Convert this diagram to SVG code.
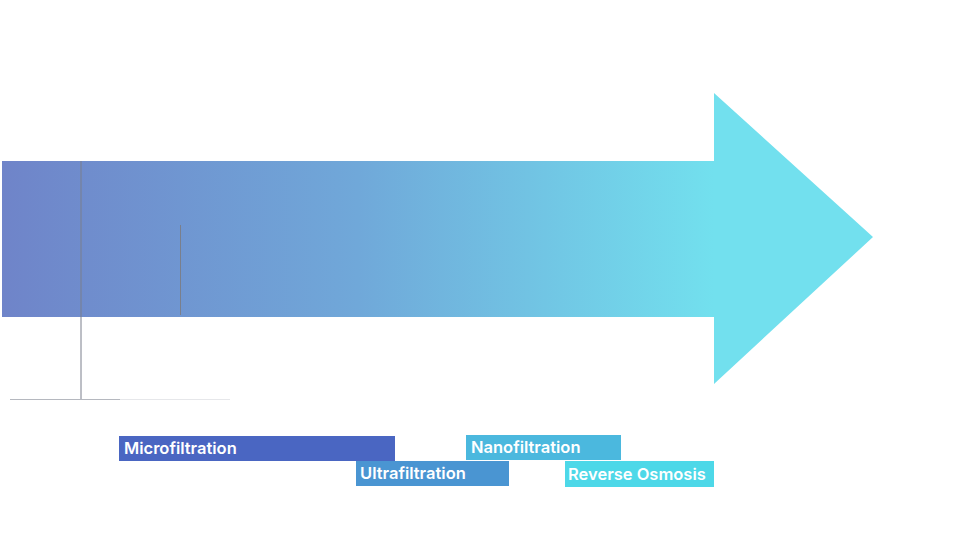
<svg xmlns="http://www.w3.org/2000/svg" width="960" height="540" viewBox="0 0 960 540">
<style>
.lbl{font-family:Inter,"Open Sans","Liberation Sans",sans-serif;font-size:16.5px;font-weight:600;fill:#ffffff}
.ln{stroke:#7a7f8c;stroke-width:1;fill:none}
</style>
<defs>
<linearGradient id="g" gradientUnits="userSpaceOnUse" x1="2" y1="0" x2="714" y2="0">
<stop offset="0" stop-color="#6f84c9"/>
<stop offset="0.5" stop-color="#70a8d9"/>
<stop offset="1" stop-color="#72e0ee"/>
</linearGradient>
</defs>
<rect width="960" height="540" fill="#ffffff"/>
<g id="arrow">
<polygon points="2,161 714,161 714,93 873,237 714,384 714,317 2,317" fill="url(#g)"/>
</g>
<g id="connectors">
<line class="ln" x1="81" y1="161" x2="81" y2="400"/>
<line x1="10" y1="399.5" x2="120" y2="399.5" stroke="#b5b8bf" stroke-width="1"/>
<line x1="120" y1="399.5" x2="230" y2="399.5" stroke="#e6e7ea" stroke-width="1"/>
<line class="ln" x1="180.5" y1="225" x2="180.5" y2="315"/>
</g>
<g id="microfiltration">
<rect x="119" y="436" width="276" height="25" fill="#4a66c2"/>
<text class="lbl" x="124" y="454">Microfiltration</text>
</g>
<g id="ultrafiltration">
<rect x="356" y="461" width="153" height="25" fill="#4a95d2"/>
<text class="lbl" x="360" y="479">Ultrafiltration</text>
</g>
<g id="nanofiltration">
<rect x="466" y="435" width="155" height="25" fill="#4bb8de"/>
<text class="lbl" x="471" y="453">Nanofiltration</text>
</g>
<g id="reverse-osmosis">
<rect x="565" y="461" width="149" height="26" fill="#4dd8e8"/>
<text class="lbl" x="568" y="480">Reverse Osmosis</text>
</g>
</svg>
